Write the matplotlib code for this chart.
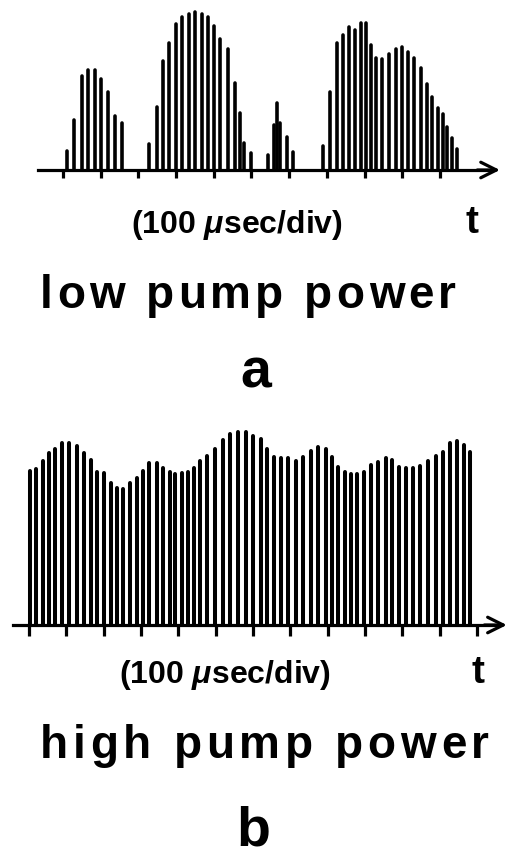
import matplotlib
matplotlib.use("Agg")
from matplotlib import pyplot as plt
from matplotlib.textpath import TextToPath
from matplotlib.font_manager import FontProperties
import numpy as np

# pulse train, low pump power: time (usec) and peak height (arb. units)
low_t = [10, 29, 50, 67, 85, 101, 119, 138, 156,
         228, 249, 265, 281, 299, 316, 333, 350, 368, 384, 401, 416, 437, 456, 469, 480, 498,
         544, 560, 567, 576, 593, 609,
         689, 708, 726, 743, 759, 775, 790, 803, 816, 830, 846, 865, 883, 898, 914, 931,
         949, 965, 978, 994, 1007, 1019, 1031, 1044]
low_h = [19, 50, 94, 100, 100, 91, 78, 54, 47,
         26, 63, 109, 127, 146, 153, 156, 158, 156, 153, 144, 131, 121, 87, 57, 27, 17,
         15, 45, 67, 47, 33, 18,
         24, 78, 127, 135, 143, 140, 147, 147, 125, 112, 111, 116, 121, 123, 118, 112,
         102, 86, 73, 62, 56, 43, 32, 21]

# pulse train, high pump power
high_t = [3, 19, 37, 54, 70, 88, 107, 128, 147, 165, 183, 201, 219, 235, 251, 271, 289,
          305, 322, 342, 360, 378, 391, 409, 427, 442, 458, 478, 498, 519, 538, 561, 581,
          601, 621, 638, 656, 675, 695, 715, 735, 755, 775, 795, 811, 829, 846, 863, 880,
          897, 916, 936, 956, 973, 992, 1010, 1028, 1047, 1070, 1090, 1108, 1128, 1146,
          1165, 1181]
high_h = [154, 156, 164, 172, 176, 182, 182, 179, 172, 165, 153, 152, 142, 137, 136, 142,
          147, 154, 162, 162, 157, 153, 151, 152, 153, 157, 164, 169, 176, 185, 191, 193,
          193, 189, 186, 176, 168, 167, 167, 164, 168, 174, 178, 176, 168, 158, 153, 151,
          151, 153, 160, 163, 167, 165, 158, 157, 157, 159, 164, 169, 173, 182, 184, 180,
          173]

low_ticks = np.arange(0, 1001, 100)
high_ticks = np.arange(0, 1201, 100)

W, H = 515, 856
FONT = "Liberation Sans"
plt.rcParams['font.family'] = [FONT, 'DejaVu Sans']
plt.rcParams['mathtext.fontset'] = 'custom'
plt.rcParams['mathtext.it'] = FONT + ':italic:bold'
plt.rcParams['mathtext.rm'] = FONT + ':bold'

fig = plt.figure(figsize=(W / 100, H / 100), dpi=100)
fig.patch.set_facecolor('white')


def px(x, y):
    return x / W, 1 - y / H


def tracked(x, y, s, size, extra):
    # draw bold text letter by letter with extra spacing (px)
    prop = FontProperties(family=FONT, weight='bold', size=size)
    t2p = TextToPath()
    widths = [t2p.get_text_width_height_descent(c, prop, ismath=False)[0] * 100 / 72 for c in s]
    xx = x
    for c, w in zip(s, widths):
        fig.text(*px(xx, y), c, fontproperties=prop, ha='left', va='baseline')
        xx += w + extra


def pulse_panel(rect, xlim, ylim, t, h, ticks, x0, x1, ticklen, lw):
    ax = fig.add_axes(rect)
    ax.set_xlim(*xlim)
    ax.set_ylim(*ylim)
    ax.vlines(t, 0, h, colors='black', lw=lw, capstyle='round')
    for s in ['top', 'right', 'left']:
        ax.spines[s].set_visible(False)
    ax.spines['bottom'].set_position(('data', 0))
    ax.spines['bottom'].set_bounds(x0, x1 - 20)
    ax.spines['bottom'].set_linewidth(2.3)
    ax.set_yticks([])
    ax.set_xticks(ticks)
    ax.set_xticklabels([])
    ax.tick_params(axis='x', direction='out', length=ticklen, width=2.3)
    ax.annotate('', xy=(x1, 0), xytext=(x1 - 60, 0),
                arrowprops=dict(arrowstyle='->', lw=2.3, mutation_scale=28,
                                shrinkA=0, shrinkB=0))
    ax.patch.set_alpha(0)
    return ax


# panel a
pulse_panel([0, 1 - 190 / H, 1, 190 / H], (-167, 1199), (-20, 170),
            low_t, low_h, low_ticks, -66, 1159, 6, 2.6)
fig.text(*px(237, 233), r'(100 $\mu$sec/div)', fontsize=23, fontweight='bold',
         ha='center', va='baseline')
fig.text(*px(472, 233), 't', fontsize=28, fontweight='bold', ha='center', va='baseline')
tracked(40, 308, 'low pump power', 33, 4.2)
fig.text(*px(256, 388), 'a', fontsize=40, fontweight='bold', ha='center', va='baseline')

# panel b
pulse_panel([0, 1 - 645 / H, 1, 225 / H], (-77.7, 1302), (-20, 205),
            high_t, high_h, high_ticks, -43, 1280, 8, 2.9)
fig.text(*px(225, 683), r'(100 $\mu$sec/div)', fontsize=23, fontweight='bold',
         ha='center', va='baseline')
fig.text(*px(478, 683), 't', fontsize=28, fontweight='bold', ha='center', va='baseline')
tracked(40, 758, 'high pump power', 33, 4.8)
fig.text(*px(253, 845), 'b', fontsize=40, fontweight='bold', ha='center', va='baseline')

fig.savefig('out.png', dpi=100, facecolor='white')
